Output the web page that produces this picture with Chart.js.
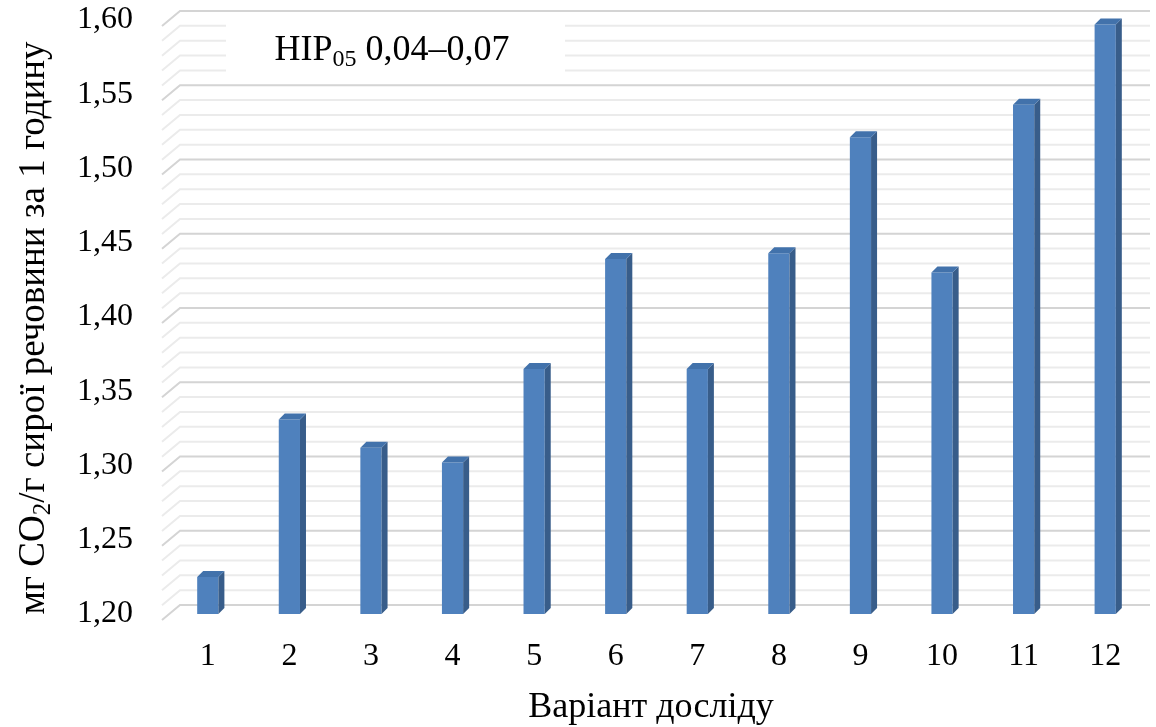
<!DOCTYPE html>
<html>
<head>
<meta charset="utf-8">
<script src="https://cdn.jsdelivr.net/npm/chart.js@4.4.1/dist/chart.umd.min.js"></script>
<style>
  html, body { margin: 0; padding: 0; background: #fff; }
  #wrap { width: 1156px; height: 727px; }
</style>
</head>
<body>
<div id="wrap"><canvas id="canvas"></canvas></div>
<script>
// variants and CO2 release values
var labels = ["1", "2", "3", "4", "5", "6", "7", "8", "9", "10", "11", "12"];
var values = [1.225, 1.331, 1.312, 1.302, 1.365, 1.439, 1.365, 1.443, 1.521, 1.430, 1.543, 1.597];

var yMin = 1.20;
var yMax = 1.60;
var majorStep = 0.05;
var minorStep = 0.01;

var xTitle = "Варіант досліду";
var yTitleA = "мг CO";
var yTitleSub = "2";
var yTitleB = "/г сирої речовини за 1 годину";
var noteMain = "НІР";
var noteSub = "05";
var noteRest = " 0,04–0,07";

var FONT = "'Liberation Serif', 'Times New Roman', serif";

// depth of the fake 3d look
var DX = 6, DY = 6;

// back wall grid + left floor diagonals, then the note box
var wallPlugin = {
    id: 'wall',
    beforeDatasetsDraw: function(chart) {
        var ctx = chart.ctx;
        var y = chart.scales.y;
        var a = chart.chartArea;
        ctx.save();
        var n = Math.round((yMax - yMin) / minorStep);
        for (var i = 0; i <= n; i++) {
            var v = yMin + i * minorStep;
            var py = y.getPixelForValue(v);
            var major = (i % 5 === 0);
            ctx.strokeStyle = major ? '#d4d4d4' : '#ebebeb';
            ctx.lineWidth = 2;
            ctx.beginPath();
            ctx.moveTo(a.left - 5, py + 6);
            ctx.lineTo(a.left + 13, py - 9);
            ctx.lineTo(a.right + 4, py - 9);
            ctx.stroke();
        }
        // note box
        ctx.fillStyle = '#ffffff';
        ctx.fillRect(226, 16, 339, 61);
        ctx.fillStyle = '#000';
        ctx.textBaseline = 'alphabetic';
        ctx.font = '36px ' + FONT;
        var w1 = ctx.measureText(noteMain).width;
        var w3 = ctx.measureText(noteRest).width;
        ctx.font = '24px ' + FONT;
        var w2 = ctx.measureText(noteSub).width;
        var x0 = 392 - (w1 + w2 + w3) / 2;
        ctx.font = '36px ' + FONT;
        ctx.fillText(noteMain, x0, 60);
        ctx.font = '24px ' + FONT;
        ctx.fillText(noteSub, x0 + w1, 66);
        ctx.font = '36px ' + FONT;
        ctx.fillText(noteRest, x0 + w1 + w2, 60);
        ctx.restore();
    }
};

// side and top faces of every bar
var bar3dPlugin = {
    id: 'bar3d',
    afterDatasetsDraw: function(chart) {
        var ctx = chart.ctx;
        var meta = chart.getDatasetMeta(0);
        var bottom = chart.chartArea.bottom;
        ctx.save();
        meta.data.forEach(function(bar) {
            var p = bar.getProps(['x', 'y', 'base', 'width'], true);
            var l = p.x - p.width / 2, r = p.x + p.width / 2;
            var b = Math.min(p.base, bottom);
            ctx.fillStyle = '#385d8a';
            ctx.beginPath();
            ctx.moveTo(r, p.y);
            ctx.lineTo(r + DX, p.y - DY);
            ctx.lineTo(r + DX, b - DY);
            ctx.lineTo(r, b);
            ctx.closePath();
            ctx.fill();
            ctx.fillStyle = '#4272ab';
            ctx.beginPath();
            ctx.moveTo(l, p.y);
            ctx.lineTo(l + DX, p.y - DY);
            ctx.lineTo(r + DX, p.y - DY);
            ctx.lineTo(r, p.y);
            ctx.closePath();
            ctx.fill();
        });
        ctx.restore();
    },
    afterDraw: function(chart) {
        var ctx = chart.ctx;
        ctx.save();
        ctx.fillStyle = '#000';
        // x title
        ctx.font = '36px ' + FONT;
        ctx.textAlign = 'center';
        ctx.textBaseline = 'alphabetic';
        ctx.fillText(xTitle, 651, 717);
        // y title, rotated, with subscript
        ctx.translate(44, 328);
        ctx.rotate(-Math.PI / 2);
        ctx.textAlign = 'left';
        ctx.font = '37px ' + FONT;
        var wa = ctx.measureText(yTitleA).width;
        var wb = ctx.measureText(yTitleB).width;
        ctx.font = '25px ' + FONT;
        var ws = ctx.measureText(yTitleSub).width;
        var sx = -(wa + ws + wb) / 2;
        ctx.font = '37px ' + FONT;
        ctx.fillText(yTitleA, sx, 0);
        ctx.font = '25px ' + FONT;
        ctx.fillText(yTitleSub, sx + wa, 6);
        ctx.font = '37px ' + FONT;
        ctx.fillText(yTitleB, sx + wa + ws, 0);
        ctx.restore();
    }
};

var config = {
    type: 'bar',
    data: {
        labels: labels,
        datasets: [
            {
                label: 'CO2',
                data: values,
                backgroundColor: '#4f81bd',
                borderWidth: 0,
                categoryPercentage: 1,
                barPercentage: 0.26
            }
        ]
    },
    options: {
        responsive: true,
        maintainAspectRatio: false,
        animation: false,
        layout: { padding: { top: 20, right: 10, left: 0, bottom: 0 } },
        plugins: {
            legend: { display: false },
            tooltip: { enabled: false }
        },
        scales: {
            x: {
                grid: { display: false, drawTicks: false },
                border: { display: false },
                ticks: {
                    color: '#000',
                    font: { family: FONT, size: 32 },
                    padding: 23,
                    maxRotation: 0
                },
                afterFit: function(scale) {
                    scale.height = 113;
                    scale.paddingLeft = 0;
                    scale.paddingRight = 0;
                }
            },
            y: {
                min: yMin,
                max: yMax,
                grid: { display: false, drawTicks: false },
                border: { display: false },
                ticks: {
                    stepSize: majorStep,
                    color: '#000',
                    font: { family: FONT, size: 32 },
                    padding: 34,
                    callback: function(v) { return Number(v).toFixed(2).replace('.', ','); }
                },
                afterFit: function(scale) {
                    scale.width = 167;
                    scale.paddingTop = 0;
                    scale.paddingBottom = 0;
                }
            }
        }
    },
    plugins: [wallPlugin, bar3dPlugin]
};

window.onload = function() {
    var ctx = document.getElementById('canvas').getContext('2d');
    window.myBar = new Chart(ctx, config);
};
</script>
</body>
</html>
